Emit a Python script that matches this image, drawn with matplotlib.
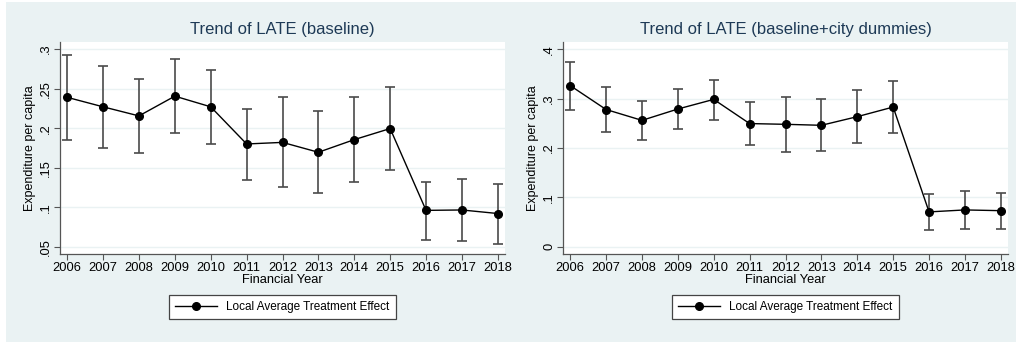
import matplotlib

matplotlib.use("Agg")
import matplotlib.pyplot as plt
from matplotlib.patches import Rectangle

plt.rcParams["font.family"] = ["Liberation Sans", "DejaVu Sans"]

years = [2006, 2007, 2008, 2009, 2010, 2011, 2012, 2013, 2014, 2015, 2016, 2017, 2018]

# baseline
late_base = [0.239, 0.227, 0.2155, 0.2405, 0.227, 0.180, 0.182, 0.1695, 0.1855, 0.1995, 0.096, 0.0965, 0.092]
upper_base = [0.292, 0.279, 0.262, 0.288, 0.273, 0.2245, 0.239, 0.2215, 0.239, 0.2525, 0.132, 0.1355, 0.129]
lower_base = [0.185, 0.175, 0.168, 0.1935, 0.180, 0.135, 0.126, 0.1175, 0.1315, 0.1465, 0.059, 0.0575, 0.054]

# baseline + city dummies
late_city = [0.3265, 0.278, 0.256, 0.279, 0.2985, 0.2495, 0.248, 0.246, 0.2635, 0.283, 0.0705, 0.0745, 0.073]
upper_city = [0.375, 0.3235, 0.296, 0.320, 0.3385, 0.293, 0.304, 0.2985, 0.317, 0.336, 0.106, 0.1135, 0.1095]
lower_city = [0.2775, 0.232, 0.216, 0.238, 0.2575, 0.2055, 0.192, 0.194, 0.2095, 0.2295, 0.0345, 0.0355, 0.0365]

titles = ["Trend of LATE (baseline)", "Trend of LATE (baseline+city dummies)"]
yticks_base = [0.05, 0.1, 0.15, 0.2, 0.25, 0.3]
ylabels_base = [".05", ".1", ".15", ".2", ".25", ".3"]
yticks_city = [0, 0.1, 0.2, 0.3, 0.4]
ylabels_city = ["0", ".1", ".2", ".3", ".4"]

BG = "#eaf2f3"
TITLE = "#1e3a56"

fig = plt.figure(figsize=(10.16, 3.45), dpi=100)
fig.patch.set_facecolor("white")
fig.patches.append(Rectangle((6 / 1016, 3 / 345), 1 - 6 / 1016, 340 / 345,
                             transform=fig.transFigure, facecolor=BG,
                             edgecolor="none", zorder=-10))

panels = [
    (late_base, upper_base, lower_base, yticks_base, ylabels_base, (0.0408, 0.309), 60),
    (late_city, upper_city, lower_city, yticks_city, ylabels_city, (-0.0148, 0.4148), 563),
]

for (late, up, lo, yt, yl, ylim, x0), title in zip(panels, titles):
    ax = fig.add_axes([x0 / 1016, 1 - 254 / 345, 445 / 1016, 212 / 345])
    ax.set_facecolor("white")
    err = [[m - l for m, l in zip(late, lo)], [u - m for m, u in zip(late, up)]]
    ax.errorbar(years, late, yerr=err, fmt="none", ecolor="#4a4a4a",
                elinewidth=1.2, capsize=3.5, capthick=1.2, zorder=2)
    line, = ax.plot(years, late, color="black", lw=1.0, marker="o",
                    markersize=5.5, zorder=3)
    ax.set_xlim(2005.8, 2018.2)
    ax.set_ylim(*ylim)
    ax.set_xticks(years)
    ax.set_xticklabels([str(y) for y in years], fontsize=9.3)
    ax.set_yticks(yt)
    ax.set_yticklabels(yl, fontsize=9.3, rotation=90, va="center")
    ax.grid(axis="y", color=BG, lw=1.0)
    ax.set_axisbelow(True)
    for side in ("top", "right"):
        ax.spines[side].set_visible(False)
    for side in ("left", "bottom"):
        ax.spines[side].set_color("#555555")
        ax.spines[side].set_linewidth(0.9)
    ax.tick_params(length=4, width=0.8, color="#555555", pad=1.5)
    ax.set_xlabel("Financial Year", fontsize=9.3, labelpad=0)
    ax.set_ylabel("Expenditure per capita", fontsize=9, labelpad=3)
    ax.set_title(title, fontsize=12, color=TITLE, pad=6)
    leg = fig.legend([line], ["Local Average Treatment Effect"], loc="center",
                     bbox_to_anchor=((x0 + 222) / 1016, 1 - 307 / 345),
                     fontsize=8.5, handlelength=3.6, handletextpad=0.7,
                     borderpad=0.55, fancybox=False, framealpha=1,
                     edgecolor="#444444", facecolor="white")
    leg.get_frame().set_linewidth(0.9)

fig.savefig("out.png", dpi=100)
